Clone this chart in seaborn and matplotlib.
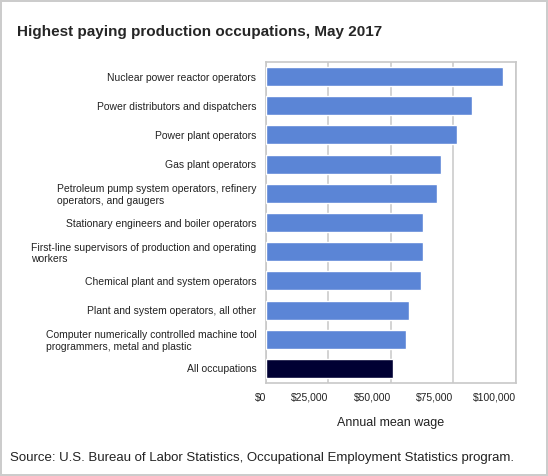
import seaborn as sns
import matplotlib.pyplot as plt
from matplotlib.ticker import FuncFormatter

# data
occupations = [
    "Nuclear power reactor operators",
    "Power distributors and dispatchers",
    "Power plant operators",
    "Gas plant operators",
    "Petroleum pump system operators, refinery\noperators, and gaugers",
    "Stationary engineers and boiler operators",
    "First-line supervisors of production and operating\nworkers",
    "Chemical plant and system operators",
    "Plant and system operators, all other",
    "Computer numerically controlled machine tool\nprogrammers, metal and plastic",
    "All occupations",
]
mean_wage = [94700, 82300, 76300, 69900, 68300, 62700, 62700, 61900, 57100, 55900, 50620]
bar_colors = ["#5b85d6"] * 10 + ["#000033"]

sns.set_theme(style="white")
plt.rcParams["font.family"] = ["Liberation Sans", "DejaVu Sans"]

fig = plt.figure(figsize=(5.48, 4.76), dpi=100, edgecolor="#cccccc", linewidth=1.5)
ax = fig.add_axes([0.4854, 0.1954, 0.4562, 0.6743])

sns.barplot(x=mean_wage, y=occupations, hue=occupations, palette=bar_colors,
            legend=False, width=0.65, saturation=1, ax=ax, zorder=3)

ax.set_xlim(0, 100000)
ax.set_xticks([0, 25000, 50000, 75000, 100000])
ax.xaxis.set_major_formatter(FuncFormatter(lambda v, p: f"${v:,.0f}"))
ax.grid(axis="x", color="#c8c8c8", linewidth=1.1, zorder=0)
ax.set_axisbelow(True)
for s in ax.spines.values():
    s.set_color("#c8c8c8")
    s.set_linewidth(1.2)

ax.tick_params(axis="x", length=0, pad=7, labelsize=7.5, labelcolor="#222222")
ax.tick_params(axis="y", length=0, pad=7, labelsize=7.5, labelcolor="#222222")
for lab in ax.get_xticklabels():
    lab.set_horizontalalignment("right")
for lab in ax.get_yticklabels():
    lab.set_multialignment("left")

ax.set_ylabel("")
ax.set_xlabel("Annual mean wage", fontsize=9, labelpad=10, color="#222222")

fig.text(0.031, 0.932, "Highest paying production occupations, May 2017",
         fontsize=11, fontweight="bold", va="center")
fig.text(0.018, 0.038, "Source: U.S. Bureau of Labor Statistics, Occupational Employment Statistics program.",
         fontsize=9.5, va="center", color="#222222")

plt.savefig("out.png", dpi=100)
